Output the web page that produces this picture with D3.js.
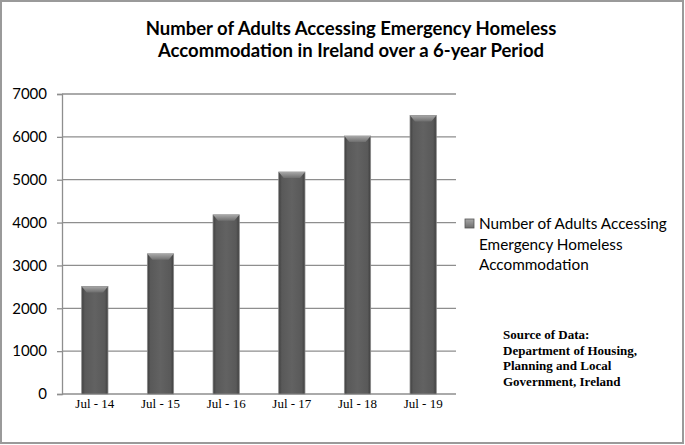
<!DOCTYPE html>
<html>
<head>
<meta charset="utf-8">
<script src="https://cdn.jsdelivr.net/npm/d3@7"></script>
<style>
  html, body { margin: 0; padding: 0; background: #fff; }
  svg { display: block; }
</style>
</head>
<body>
<div id="chart"></div>
<script>
// data
const categories = ["Jul - 14", "Jul - 15", "Jul - 16", "Jul - 17", "Jul - 18", "Jul - 19"];
const adults = [2510, 3270, 4180, 5180, 6020, 6500];
const yTicks = [0, 1000, 2000, 3000, 4000, 5000, 6000, 7000];
const titleLines = ["Number of Adults Accessing Emergency Homeless", "Accommodation in Ireland over a 6-year Period"];
const legendLines = ["Number of Adults Accessing", "Emergency Homeless", "Accommodation"];
const sourceLines = ["Source of Data:", "Department of Housing,", "Planning and Local", "Government, Ireland"];

const width = 685;
const height = 445;
const calibri = "Lato, 'Open Sans', sans-serif";
const times = "'Liberation Serif', 'DejaVu Serif', serif";

const svg = d3.select("#chart")
  .append("svg")
  .attr("width", width)
  .attr("height", height);

const defs = svg.append("defs");
const barGrad = defs.append("linearGradient")
  .attr("id", "barGrad")
  .attr("x1", "0").attr("x2", "1").attr("y1", "0").attr("y2", "0");
barGrad.append("stop").attr("offset", "0%").attr("stop-color", "#3f3f3f");
barGrad.append("stop").attr("offset", "12%").attr("stop-color", "#595959");
barGrad.append("stop").attr("offset", "50%").attr("stop-color", "#626262");
barGrad.append("stop").attr("offset", "88%").attr("stop-color", "#595959");
barGrad.append("stop").attr("offset", "100%").attr("stop-color", "#3f3f3f");

const capGrad = defs.append("linearGradient")
  .attr("id", "capGrad")
  .attr("x1", "0").attr("x2", "0").attr("y1", "0").attr("y2", "1");
capGrad.append("stop").attr("offset", "0%").attr("stop-color", "#a8a8a8");
capGrad.append("stop").attr("offset", "100%").attr("stop-color", "#6e6e6e");

// outer frame
svg.append("rect")
  .attr("x", 1).attr("y", 1)
  .attr("width", width - 3).attr("height", height - 3)
  .attr("fill", "#fff")
  .attr("stroke", "#9a9a9a")
  .attr("stroke-width", 2);

// title
svg.append("text")
  .attr("x", 351)
  .attr("y", 35)
  .attr("text-anchor", "middle")
  .style("font-family", calibri)
  .style("font-weight", "bold")
  .style("font-size", "18.5px")
  .selectAll("tspan")
  .data(titleLines)
  .enter()
  .append("tspan")
  .attr("x", 351)
  .attr("dy", (d, i) => i === 0 ? 0 : 22)
  .text(d => d);

const plotLeft = 62, plotRight = 456;

const x = d3.scaleBand()
  .domain(categories)
  .range([plotLeft, plotRight])
  .paddingInner(0.6)
  .paddingOuter(0.3);

const y = d3.scaleLinear()
  .domain([0, 7000])
  .range([394, 94]);

// gridlines + y axis
const yAxis = svg.append("g")
  .attr("transform", `translate(${plotLeft},0)`)
  .call(d3.axisLeft(y).tickValues(yTicks).tickSize(5).tickFormat(d3.format("d")));
yAxis.select(".domain").attr("stroke", "#8e8e8e").attr("stroke-width", 1.3);
yAxis.selectAll(".tick line").attr("stroke", "#8e8e8e").attr("stroke-width", 1.3);
yAxis.selectAll(".tick text")
  .attr("x", -15)
  .style("font-family", calibri)
  .style("font-size", "15px")
  .attr("fill", "#000");

svg.append("g")
  .selectAll("line")
  .data(yTicks)
  .enter()
  .append("line")
  .attr("x1", plotLeft)
  .attr("x2", plotRight)
  .attr("y1", d => y(d))
  .attr("y2", d => y(d))
  .attr("stroke", "#8e8e8e")
  .attr("stroke-width", 1.3);

// bars
const bars = svg.append("g")
  .selectAll("g")
  .data(adults)
  .enter()
  .append("g");

bars.append("rect")
  .attr("x", (d, i) => x(categories[i]))
  .attr("y", d => y(d))
  .attr("width", x.bandwidth())
  .attr("height", d => y(0) - y(d))
  .attr("fill", "url(#barGrad)")
  .attr("stroke", "#8a8a8a")
  .attr("stroke-width", 0.8);

bars.append("path")
  .attr("d", (d, i) => {
    const x0 = x(categories[i]), w = x.bandwidth(), t = y(d);
    return `M${x0},${t}L${x0 + w},${t}L${x0 + w - 5},${t + 6}L${x0 + 5},${t + 6}Z`;
  })
  .attr("fill", "url(#capGrad)");

// x labels
svg.append("g")
  .selectAll("text")
  .data(categories)
  .enter()
  .append("text")
  .attr("x", d => x(d) + x.bandwidth() / 2)
  .attr("y", 408)
  .attr("text-anchor", "middle")
  .style("font-family", times)
  .style("font-size", "13px")
  .text(d => d);

// legend
svg.append("rect")
  .attr("x", 465).attr("y", 219)
  .attr("width", 9).attr("height", 9)
  .attr("fill", "url(#capGrad)")
  .attr("stroke", "#555")
  .attr("stroke-width", 0.8);

svg.append("text")
  .style("font-family", calibri)
  .style("font-size", "15.3px")
  .selectAll("tspan")
  .data(legendLines)
  .enter()
  .append("tspan")
  .attr("x", 479)
  .attr("y", (d, i) => 229 + i * 20.5)
  .text(d => d);

// source note
svg.append("text")
  .style("font-family", times)
  .style("font-weight", "bold")
  .style("font-size", "13px")
  .selectAll("tspan")
  .data(sourceLines)
  .enter()
  .append("tspan")
  .attr("x", 503)
  .attr("y", (d, i) => 339 + i * 15.5)
  .text(d => d);
</script>
</body>
</html>
